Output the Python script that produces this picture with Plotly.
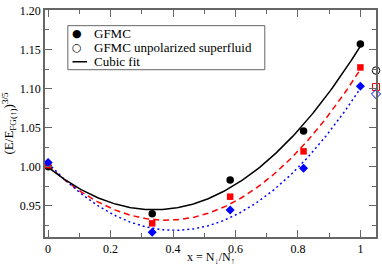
import numpy as np
import plotly.graph_objects as go

# Data
x_pol = [0.0, 1/3, 0.583, 0.818, 1.0]
y_gfmc = [1.000, 0.9396, 0.983, 1.0458, 1.157]
y_red = [1.002, 0.9275, 0.9616, 1.0196, 1.127]
y_blue = [1.0054, 0.916, 0.9446, 0.9979, 1.1029]

x_unpol = [1.05]
y_unpol_black = [1.123]
y_unpol_red = [1.102]
y_unpol_blue = [1.093]

x_ticks = [0, 0.2, 0.4, 0.6, 0.8, 1]
x_ticklabels = ["0", "0.2", "0.4", "0.6", "0.8", "1"]
y_ticks = [0.95, 1.00, 1.05, 1.10, 1.15, 1.20]
y_ticklabels = ["0.95", "1.00", "1.05", "1.10", "1.15", "1.20"]

legend_labels = ["GFMC", "GFMC unpolarized superfluid", "Cubic fit"]

xf = np.linspace(0, 1, 200)
def cubic(y):
    c = np.polyfit(x_pol, y, 3)
    return np.polyval(c, xf)

fig = go.Figure()
fig.add_trace(go.Scatter(x=xf, y=cubic(y_red), mode="lines",
                         line=dict(color="red", width=1.5, dash="6px,4px"), showlegend=False))
fig.add_trace(go.Scatter(x=xf, y=cubic(y_blue), mode="lines",
                         line=dict(color="blue", width=1.5, dash="2px,3px"), showlegend=False))
fig.add_trace(go.Scatter(x=xf, y=cubic(y_gfmc), mode="lines", name=legend_labels[2],
                         line=dict(color="black", width=1.5), showlegend=False))
fig.add_trace(go.Scatter(x=x_pol, y=y_gfmc, mode="markers", name=legend_labels[0],
                         marker=dict(symbol="circle", size=7.5, color="black"), showlegend=False))
fig.add_trace(go.Scatter(x=x_unpol, y=y_unpol_black, mode="markers", name=legend_labels[1],
                         marker=dict(symbol="circle-open", size=7.5, color="black", line=dict(width=1)),
                         cliponaxis=False, showlegend=False))
fig.add_trace(go.Scatter(x=x_pol, y=y_red, mode="markers", showlegend=False,
                         marker=dict(symbol="square", size=6.5, color="red")))
fig.add_trace(go.Scatter(x=x_pol, y=y_blue, mode="markers", showlegend=False,
                         marker=dict(symbol="diamond", size=7, color="blue")))
fig.add_trace(go.Scatter(x=x_unpol, y=y_unpol_red, mode="markers", showlegend=False,
                         marker=dict(symbol="square-open", size=7, color="red", line=dict(width=1)),
                         cliponaxis=False))
fig.add_trace(go.Scatter(x=x_unpol, y=y_unpol_blue, mode="markers", showlegend=False,
                         marker=dict(symbol="diamond-open", size=7, color="blue", line=dict(width=1)),
                         cliponaxis=False))

font = "Liberation Serif, Times New Roman, serif"
axis_common = dict(showline=True, linecolor="#666", linewidth=1.5, mirror="allticks",
                   ticks="inside", ticklen=7, tickcolor="#666", tickwidth=1,
                   showgrid=False, zeroline=False, ticklabeloverflow="allow",
                   tickfont=dict(family=font, size=12, color="black"))

# Manual legend box (paper coordinates)
lx0, lx1, ly0, ly1 = 0.069, 0.664, 0.737, 0.931
rows = [0.897, 0.834, 0.772]
shapes = [dict(type="rect", xref="paper", yref="paper", x0=lx0, x1=lx1, y0=ly0, y1=ly1,
               line=dict(color="#666", width=1), fillcolor="white", layer="above"),
          dict(type="line", xref="paper", yref="paper", x0=0.083, x1=0.127, y0=rows[2], y1=rows[2],
               line=dict(color="black", width=1.5), layer="above")]
annotations = [
    dict(text="●", x=0.098, y=rows[0], xref="paper", yref="paper", showarrow=False,
         font=dict(family="DejaVu Sans", size=11, color="black"), xanchor="center", yanchor="middle"),
    dict(text="○", x=0.098, y=rows[1], xref="paper", yref="paper", showarrow=False,
         font=dict(family="DejaVu Sans", size=11, color="black"), xanchor="center", yanchor="middle"),
]
for lab, ry in zip(legend_labels, rows):
    annotations.append(dict(text=lab, x=0.141, y=ry, xref="paper", yref="paper", showarrow=False,
                            font=dict(family=font, size=13, color="black"),
                            xanchor="left", yanchor="middle"))
annotations.append(dict(text="x = N<sub>↓</sub>/N<sub>↑</sub>", x=0.5, y=-0.092, xref="paper", yref="paper",
                        showarrow=False, font=dict(family=font, size=12, color="black"),
                        xanchor="center", yanchor="middle"))

fig.update_layout(
    width=382, height=267,
    margin=dict(l=45, r=4, t=5, b=30),
    paper_bgcolor="white", plot_bgcolor="white",
    font=dict(family=font, size=12, color="black"),
    xaxis=dict(range=[-0.01, 1.05], tickvals=x_ticks, ticktext=x_ticklabels,
               minor=dict(dtick=0.1, tick0=0, ticklen=4, ticks="inside", tickcolor="#666"),
               **axis_common),
    yaxis=dict(range=[0.91, 1.2005], tickvals=y_ticks, ticktext=y_ticklabels,
               minor=dict(dtick=0.025, tick0=0.9, ticklen=4, ticks="inside", tickcolor="#666"),
               title=dict(text="(E/E<sub>FG(↑)</sub>)<sup>3/5</sup>", font=dict(family=font, size=13), standoff=7),
               **axis_common),
    shapes=shapes,
    annotations=annotations,
    showlegend=False,
)
fig.write_html("out.html", config={"displayModeBar": False},
               post_script="document.body.style.margin='0';document.body.style.overflow='hidden';")
